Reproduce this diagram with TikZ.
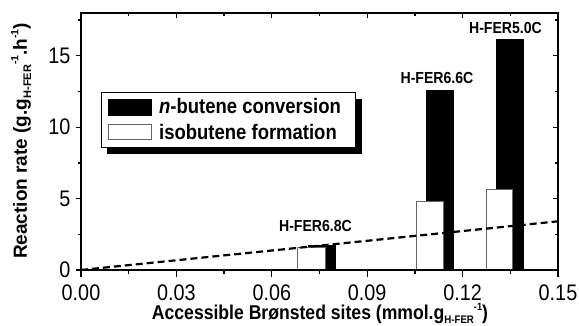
\documentclass[tikz,border=0pt]{standalone}
\usepackage{fontspec}
\setmainfont[FakeStretch=0.88]{Liberation Sans}
\newfontfamily\ylabfont{Liberation Sans}
\newcommand{\subHF}{\raisebox{-0.22em}{\fontsize{11}{11}\selectfont H-FER}}
\newcommand{\supM}[1]{\raisebox{0.45em}{\fontsize{10.5}{10.5}\selectfont #1}}
\begin{document}
\begin{tikzpicture}[x=1pt,y=-1pt,
  axisline/.style={line width=1.5pt},
  tickline/.style={line width=1.3pt},
  blackbar/.style={fill=black,draw=none},
  whitebar/.style={fill=white,draw=black!60,line width=1pt},
  barlabel/.style={font=\bfseries\fontsize{16}{16}\selectfont,inner sep=0pt,anchor=base},
  ticklabel/.style={font=\fontsize{22.5}{22.5}\selectfont,inner sep=0pt},
  legendtext/.style={font=\bfseries\fontsize{21}{21}\selectfont,inner sep=0pt,anchor=base west},
  trend/.style={line width=2.2pt,dash pattern=on 7pt off 4pt},
]
\useasboundingbox (0,0) rectangle (579,326);

% bars: n-butene conversion (black), behind isobutene formation (white)
\fill[blackbar] (308,245) rectangle (336,270);
\fill[blackbar] (426,90) rectangle (454,270);
\fill[blackbar] (496,39) rectangle (524,270);
\draw[whitebar] (297.5,247.7) rectangle (325,270);
\draw[whitebar] (416,201.7) rectangle (443,270);
\draw[whitebar] (486,189.3) rectangle (512.5,270);

% axes frame
\draw[axisline] (81,13) rectangle (558,270);

% x ticks: bottom outward, top inward
\foreach \i in {0,...,5}{
  \pgfmathsetmacro\xx{81+95.4*\i}
  \draw[tickline] (\xx,270) -- (\xx,276.5);
  \draw[tickline] (\xx,13) -- (\xx,18.5);
}
\foreach \i in {0,...,4}{
  \pgfmathsetmacro\xx{81+47.7+95.4*\i}
  \draw[tickline] (\xx,270) -- (\xx,274);
  \draw[tickline] (\xx,13) -- (\xx,16.5);
}
% y ticks: left outward, right inward
\foreach \i in {0,...,3}{
  \pgfmathsetmacro\yy{270-71.39*\i}
  \draw[tickline] (81,\yy) -- (75.5,\yy);
  \draw[tickline] (558,\yy) -- (552.5,\yy);
  \pgfmathsetmacro\ym{270-35.69-71.39*\i}
  \draw[tickline] (81,\ym) -- (77.5,\ym);
  \draw[tickline] (558,\ym) -- (554.5,\ym);
}

% tick labels
\node[ticklabel,anchor=north] (xt0) at (81,285) {0.00};
\node[ticklabel,anchor=north] (xt1) at (176.4,285) {0.03};
\node[ticklabel,anchor=north] (xt2) at (271.8,285) {0.06};
\node[ticklabel,anchor=north] (xt3) at (367.2,285) {0.09};
\node[ticklabel,anchor=north] (xt4) at (462.6,285) {0.12};
\node[ticklabel,anchor=north] (xt5) at (558,285) {0.15};
\node[ticklabel,anchor=east] (yt0) at (70.5,270) {0};
\node[ticklabel,anchor=east] (yt5) at (70.5,198.6) {5};
\node[ticklabel,anchor=east] (yt10) at (70.5,127.2) {10};
\node[ticklabel,anchor=east] (yt15) at (70.5,55.8) {15};

% trend line
\coordinate (tr0) at (81,270);
\coordinate (tr1) at (558,221.3);
\draw[trend] (tr0) -- (tr1);

% bar labels
\node[barlabel] (l68) at (315.5,232) {H-FER6.8C};
\node[barlabel] (l66) at (437,83.5) {H-FER6.6C};
\node[barlabel] (l50) at (505.5,34) {H-FER5.0C};

% legend
\fill[black] (107,98.8) rectangle (361.5,154);
\draw[fill=white,line width=1pt] (101,92.3) rectangle (355,147.3);
\fill[black] (108.3,99) rectangle (152.3,115.7);
\draw[whitebar] (108.8,124.8) rectangle (151.8,139.5);
\node[legendtext] (lg1) at (159,113.5) {\textit{n}-butene conversion};
\node[legendtext] (lg2) at (159,139.5) {isobutene formation};

% axis titles
\node[font=\bfseries\fontsize{20}{20}\selectfont,inner sep=0pt,anchor=base] (xlab) at (320,319.5)
  {Accessible Brønsted sites (mmol.g\subHF\supM{-1})};
\node[font=\ylabfont\bfseries\fontsize{19}{19}\selectfont,inner sep=0pt,anchor=base,rotate=90] (ylab) at (27,141)
  {Reaction rate (g.g\subHF\supM{-1}.h\supM{-1})};
\end{tikzpicture}
\end{document}
